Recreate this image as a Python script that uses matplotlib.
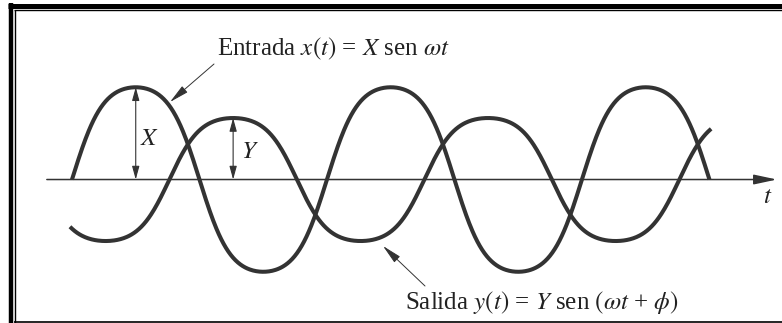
import numpy as np
import matplotlib
matplotlib.use("Agg")
import matplotlib.pyplot as plt

plt.rcParams['font.family'] = ['Liberation Serif', 'DejaVu Serif']
plt.rcParams['mathtext.fontset'] = 'stix'

# input / output amplitudes (output amplitude = 1 unit), phase of the response
X_amp = 1.5
Y_amp = 1.0
phi = -2.40                 # rad, response lags the input
wt_in = (0.0, 5 * np.pi)    # input drawn over 2.5 cycles
wt_out = (-0.05, 15.75)
wt_axis = (-0.62, 17.37)
k_shape = 0.4               # hand-drawn look: slightly fuller crests

ink = '#333333'


def wave(th):
    s = np.sin(th)
    return s * (1 + k_shape) / (1 + k_shape * s ** 2)


fig = plt.figure(figsize=(7.82, 3.23), dpi=100)
ax = fig.add_axes([0, 0, 1, 1])
ax.set_xlim(-1.774, 17.496)
ax.set_ylim(-2.333, 2.919)
ax.axis('off')

# time axis with arrow
ax.annotate('', xy=(wt_axis[1], 0), xytext=(wt_axis[0], 0),
            arrowprops=dict(arrowstyle='-|>,head_length=1.4,head_width=0.3',
                            mutation_scale=10, lw=1.1, color=ink,
                            shrinkA=0, shrinkB=0))

th = np.linspace(wt_in[0], wt_in[1], 800)
ax.plot(th, X_amp * wave(th), color=ink, lw=2.9, solid_capstyle='butt')
th = np.linspace(wt_out[0], wt_out[1], 800)
ax.plot(th, Y_amp * wave(th + phi), color=ink, lw=2.9, solid_capstyle='butt')

# amplitude markers
dbl = dict(arrowstyle='<|-|>,head_length=0.8,head_width=0.22', mutation_scale=10,
           lw=0.8, color=ink, shrinkA=0, shrinkB=0)
x_pk = np.pi / 2
y_pk = np.pi / 2 - phi
ax.annotate('', xy=(x_pk, X_amp), xytext=(x_pk, 0), arrowprops=dbl)
ax.annotate('', xy=(y_pk, Y_amp), xytext=(y_pk, 0), arrowprops=dbl)

# overlay in pixel units for frame and labels
fr = fig.add_axes([0, 0, 1, 1], facecolor='none')
fr.set_xlim(0, 782)
fr.set_ylim(323, 0)
fr.axis('off')

fr.plot([10.5, 10.5], [3.3, 323], color='black', lw=3.2, solid_capstyle='butt')
fr.plot([8.3, 782], [5.8, 5.8], color='black', lw=3.6, solid_capstyle='butt')
fr.plot([14.7, 14.7], [9.7, 323], color='black', lw=1.0, solid_capstyle='butt')
fr.plot([14.2, 782], [10.3, 10.3], color='black', lw=1.0, solid_capstyle='butt')
fr.plot([14.2, 782], [321.8, 321.8], color='black', lw=1.2, solid_capstyle='butt')

txt = dict(fontsize=18, color='#222222')
fr.text(149.5, 139, '$X$', ha='center', va='center', **txt)
fr.text(250, 152, '$Y$', ha='center', va='center', **txt)
fr.text(768, 197, '$t$', ha='center', va='center', **txt)

fr.text(217, 55, r'Entrada $x(t)$ = $X$ sen $\omega t$', ha='left', va='baseline', **txt)
fr.text(405, 309, r'Salida $y(t)$ = $Y$ sen $(\omega t$ + $\phi)$', ha='left', va='baseline', **txt)

thin = dict(arrowstyle='-|>,head_length=1.2,head_width=0.25', mutation_scale=10,
            lw=0.7, color=ink, shrinkA=0, shrinkB=0)
fr.annotate('', xy=(170, 102), xytext=(214, 64), arrowprops=thin)
fr.annotate('', xy=(383, 246), xytext=(425, 286), arrowprops=thin)

fig.savefig('out.png', dpi=100, facecolor='white')
